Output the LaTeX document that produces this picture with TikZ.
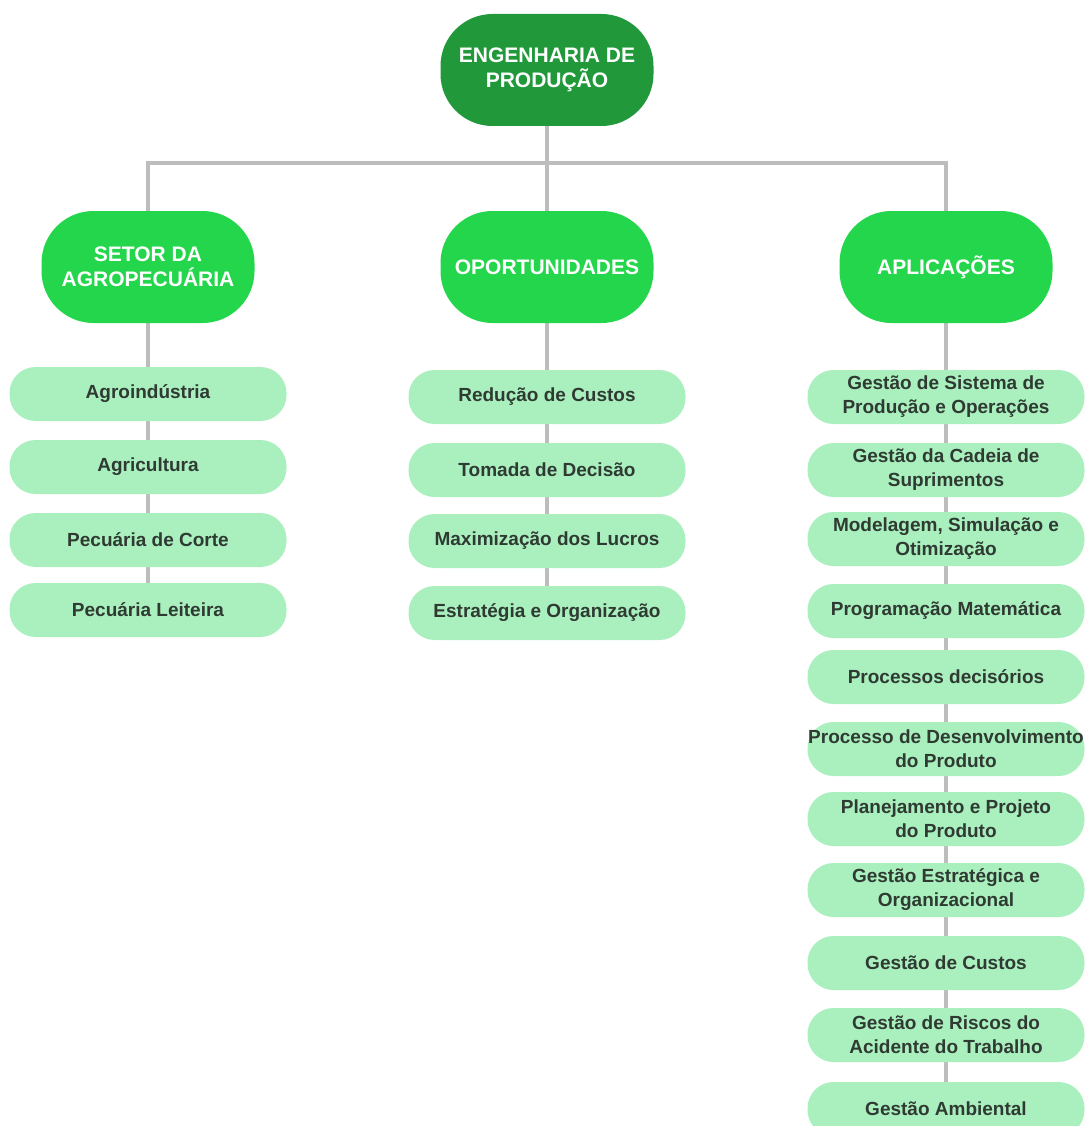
\documentclass[tikz,border=0pt]{standalone}
\usepackage{fontspec}
\setmainfont{Liberation Sans}
\usetikzlibrary{backgrounds}
\definecolor{topgreen}{HTML}{21993A}
\definecolor{midgreen}{HTML}{24D64B}
\definecolor{lightgreen}{HTML}{AAF0BE}
\definecolor{linegray}{HTML}{BDBDBD}
\definecolor{textgray}{HTML}{2F3A33}
\tikzset{
	topbox/.style={fill=topgreen, text=white, rounded corners=52pt, minimum width=213pt, minimum height=112pt, inner sep=0pt, align=center, font=\bfseries\fontsize{21}{25}\selectfont},
	areabox/.style={topbox, fill=midgreen},
	itembox/.style={fill=lightgreen, text=textgray, rounded corners=26pt, minimum width=277pt, minimum height=54pt, inner sep=0pt, align=center, font=\bfseries\fontsize{19}{24}\selectfont},
	link/.style={draw=linegray, line width=4pt}
}
\begin{document}
\begin{tikzpicture}[x=1pt,y=-1pt]
	\useasboundingbox (0,0) rectangle (1089,1126);
	\def\xa{148}
	\def\xo{547}
	\def\xp{946}
	% top and areas
	\node[topbox] (eng) at (\xo,70) {ENGENHARIA DE\\PRODUÇÃO};
	\node[areabox] (setor) at (\xa,267) {SETOR DA\\AGROPECUÁRIA};
	\node[areabox] (oport) at (\xo,267) {OPORTUNIDADES};
	\node[areabox] (aplic) at (\xp,267) {APLICAÇÕES};
	% setor da agropecuaria
	\node[itembox] (a1) at (\xa,394) {Agroindústria};
	\node[itembox] (a2) at (\xa,467) {Agricultura};
	\node[itembox] (a3) at (\xa,540) {Pecuária de Corte};
	\node[itembox] (a4) at (\xa,610) {Pecuária Leiteira};
	% oportunidades
	\node[itembox] (o1) at (\xo,397) {Redução de Custos};
	\node[itembox] (o2) at (\xo,470) {Tomada de Decisão};
	\node[itembox] (o3) at (\xo,541) {Maximização dos Lucros};
	\node[itembox] (o4) at (\xo,613) {Estratégia e Organização};
	% aplicacoes
	\begin{scope}[every node/.append style={minimum width=280pt}]
	\node[itembox] (p1) at (\xp,397) {Gestão de Sistema de\\Produção e Operações};
	\node[itembox] (p2) at (\xp,470) {Gestão da Cadeia de\\Suprimentos};
	\node[itembox] (p3) at (\xp,539) {Modelagem, Simulação e\\Otimização};
	\node[itembox] (p4) at (\xp,611) {Programação Matemática};
	\node[itembox] (p5) at (\xp,677) {Processos decisórios};
	\node[itembox] (p6) at (\xp,749) {Processo de Desenvolvimento\\do Produto};
	\node[itembox] (p7) at (\xp,819) {Planejamento e Projeto\\do Produto};
	\node[itembox] (p8) at (\xp,890) {Gestão Estratégica e\\Organizacional};
	\node[itembox] (p9) at (\xp,963) {Gestão de Custos};
	\node[itembox] (p10) at (\xp,1035) {Gestão de Riscos do\\Acidente do Trabalho};
	\node[itembox] (p11) at (\xp,1109) {Gestão Ambiental};
	\end{scope}
	% connectors
	\begin{pgfonlayer}{background}
	\coordinate (bar) at (\xo,163);
	\draw[link] (eng) -- (bar);
	\draw[link] (bar) -| (setor);
	\draw[link] (bar) -| (aplic);
	\draw[link] (bar) -- (oport);
	\draw[link] (setor) -- (a4);
	\draw[link] (oport) -- (o4);
	\draw[link] (aplic) -- (p11);
	\end{pgfonlayer}
\end{tikzpicture}
\end{document}
